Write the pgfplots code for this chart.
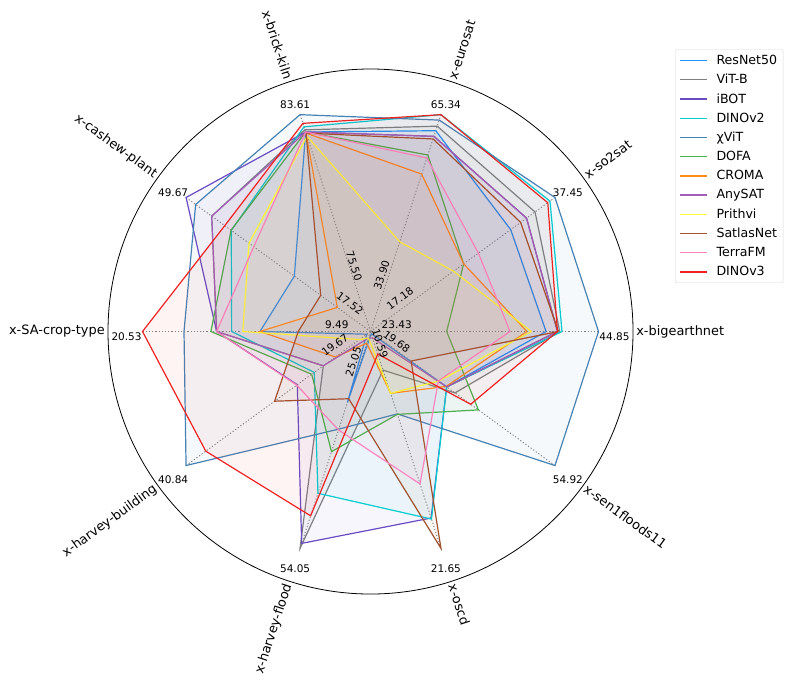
\documentclass[border=0pt]{standalone}
\usepackage{fontspec}
\setmainfont{DejaVu Sans}
\usepackage{pgfplots}
\usepackage{pgfplotstable}
\pgfplotsset{compat=1.18}

\definecolor{cRes}{HTML}{1E90FF}
\definecolor{cVit}{HTML}{808080}
\definecolor{cIbot}{HTML}{6A4BC4}
\definecolor{cDinoTwo}{HTML}{00CED1}
\definecolor{cChi}{HTML}{4682B4}
\definecolor{cDofa}{HTML}{4CAF50}
\definecolor{cCroma}{HTML}{FF8C1A}
\definecolor{cAny}{HTML}{A05EB5}
\definecolor{cPri}{HTML}{FFFF33}
\definecolor{cSat}{HTML}{A0522D}
\definecolor{cTerra}{HTML}{FF85C0}
\definecolor{cDinoThree}{HTML}{EE2222}

% normalised radius on each spoke (1 = maximum of that spoke)
\pgfplotstableread{
angle res   vit   ibot  dinotwo chi   dofa  croma anysat prithvi satlas terra dinothree
0     0.770 0.830 0.820 0.840   1.000 0.334 0.686 0.820  0.706   0.824  0.612 0.820
36    0.760 0.892 0.846 0.973   1.000 0.505 0.505 0.846  0.450   0.814  0.585 0.961
72    0.926 0.947 0.900 1.000   0.975 0.814 0.726 0.900  0.414   0.888  0.800 1.000
108   0.920 0.930 0.920 0.944   1.000 0.920 0.915 0.920  0.900   0.915  0.920 0.960
144   0.413 0.861 1.000 0.755   0.948 0.756 0.180 0.861  0.659   0.270  0.633 0.790
180   0.485 0.675 0.675 0.609   0.818 0.700 0.485 0.675  0.560   0.317  0.675 1.000
216   0.020 0.256 0.397 0.305   1.000 0.319 0.190 0.256  0.060   0.520  0.400 0.893
252   0.327 1.000 0.977 0.746   0.450 0.554 0.054 0.030  0.030   0.310  0.454 0.850
288   0.010 0.178 0.860 0.865   0.380 0.382 0.285 0.030  0.285   1.000  0.703 0.104
324   0.413 0.458 0.413 0.413   1.000 0.585 0.410 0.413  0.370   0.220  0.368 0.543
360   0.770 0.830 0.820 0.840   1.000 0.334 0.686 0.820  0.706   0.824  0.612 0.820
}\radar

\newcommand{\axfont}{\fontsize{12.9bp}{15bp}\selectfont}
\newcommand{\tkfont}{\fontsize{10.5bp}{12bp}\selectfont}

\begin{document}
\begin{tikzpicture}
\begin{axis}[
  x=228bp, y=228bp,
  xmin=-1.625, xmax=1.853, ymin=-1.550, ymax=1.454,
  scale only axis, hide axis, clip=false,
  legend style={at={(axis cs:1.3355,1.2377)}, anchor=north west,
    draw=black!15, rounded corners=2bp, fill=white,
    font=\fontsize{12.6bp}{15bp}\selectfont,
    row sep=4.3bp, inner xsep=4bp, inner ysep=3.5bp,
    cells={anchor=west}},
]
\path (axis cs:-1.625,-1.550) rectangle (axis cs:1.853,1.454);
% outer circle
\draw[black, line width=0.8bp] (axis cs:0,0) circle[radius=262.5bp];
% spokes
\pgfplotsinvokeforeach{0,36,72,108,144,180,216,252,288,324}{
  \addplot[gray, dotted, line width=0.9bp, data cs=polar, forget plot] coordinates {(0,0) (#1,1)};
}

\pgfplotsset{every axis plot/.append style={line width=1.2bp, fill opacity=0.05, draw opacity=1}}
\addplot[draw=cRes, fill=cRes, data cs=polar, forget plot] table[x=angle,y=res] {\radar};
\addplot[draw=cVit, fill=cVit, data cs=polar, forget plot] table[x=angle,y=vit] {\radar};
\addplot[draw=cIbot, fill=cIbot, data cs=polar, forget plot] table[x=angle,y=ibot] {\radar};
\addplot[draw=cDinoTwo, fill=cDinoTwo, data cs=polar, forget plot] table[x=angle,y=dinotwo] {\radar};
\addplot[draw=cChi, fill=cChi, data cs=polar, forget plot] table[x=angle,y=chi] {\radar};
\addplot[draw=cDofa, fill=cDofa, data cs=polar, forget plot] table[x=angle,y=dofa] {\radar};
\addplot[draw=cCroma, fill=cCroma, data cs=polar, forget plot] table[x=angle,y=croma] {\radar};
\addplot[draw=cAny, fill=cAny, data cs=polar, forget plot] table[x=angle,y=anysat] {\radar};
\addplot[draw=cPri, fill=cPri, data cs=polar, forget plot] table[x=angle,y=prithvi] {\radar};
\addplot[draw=cSat, fill=cSat, data cs=polar, forget plot] table[x=angle,y=satlas] {\radar};
\addplot[draw=cTerra, fill=cTerra, data cs=polar, forget plot] table[x=angle,y=terra] {\radar};
\addplot[draw=cDinoThree, fill=cDinoThree, data cs=polar, forget plot] table[x=angle,y=dinothree] {\radar};

% legend entries with explicit line images
\newcommand{\legline}[2]{\addlegendimage{legend image code/.code={\draw[draw=#1, line width=1.4bp, solid, opacity=1] (0bp,0bp) -- (27bp,0bp); \path (34bp,0bp);}}\addlegendentry{#2}}
\legline{cRes}{ResNet50}
\legline{cVit}{ViT-B}
\legline{cIbot}{iBOT}
\legline{cDinoTwo}{DINOv2}
\legline{cChi}{χViT}
\legline{cDofa}{DOFA}
\legline{cCroma}{CROMA}
\legline{cAny}{AnySAT}
\legline{cPri}{Prithvi}
\legline{cSat}{SatlasNet}
\legline{cTerra}{TerraFM}
\legline{cDinoThree}{DINOv3}

% axis names
\node[font=\axfont, anchor=west, rotate=0, inner sep=0pt] at (axis cs:{1.165*cos(0)},{1.165*sin(0)}) {x-bigearthnet};
\node[font=\axfont, anchor=west, rotate=36, inner sep=0pt] at (axis cs:{1.165*cos(36)},{1.165*sin(36)}) {x-so2sat};
\node[font=\axfont, anchor=west, rotate=72, inner sep=0pt] at (axis cs:{1.165*cos(72)},{1.165*sin(72)}) {x-eurosat};
\node[font=\axfont, anchor=east, rotate=-72, inner sep=0pt] at (axis cs:{1.165*cos(108)},{1.165*sin(108)}) {x-brick-kiln};
\node[font=\axfont, anchor=east, rotate=-36, inner sep=0pt] at (axis cs:{1.165*cos(144)},{1.165*sin(144)}) {x-cashew-plant};
\node[font=\axfont, anchor=east, rotate=0, inner sep=0pt] at (axis cs:{1.165*cos(180)},{1.165*sin(180)}) {x-SA-crop-type};
\node[font=\axfont, anchor=east, rotate=36, inner sep=0pt] at (axis cs:{1.165*cos(216)},{1.165*sin(216)}) {x-harvey-building};
\node[font=\axfont, anchor=east, rotate=72, inner sep=0pt] at (axis cs:{1.165*cos(252)},{1.165*sin(252)}) {x-harvey-flood};
\node[font=\axfont, anchor=west, rotate=-72, inner sep=0pt] at (axis cs:{1.165*cos(288)},{1.165*sin(288)}) {x-oscd};
\node[font=\axfont, anchor=west, rotate=-36, inner sep=0pt] at (axis cs:{1.165*cos(324)},{1.165*sin(324)}) {x-sen1floods11};

% maximum labels
\node[font=\tkfont, inner sep=0pt] at (axis cs:{1.07*cos(0)},{1.07*sin(0)-0.0206}) {44.85};
\node[font=\tkfont, inner sep=0pt] at (axis cs:{1.07*cos(36)},{1.07*sin(36)-0.0206}) {37.45};
\node[font=\tkfont, inner sep=0pt] at (axis cs:{1.07*cos(72)},{1.07*sin(72)-0.0206}) {65.34};
\node[font=\tkfont, inner sep=0pt] at (axis cs:{1.07*cos(108)},{1.07*sin(108)-0.0206}) {83.61};
\node[font=\tkfont, inner sep=0pt] at (axis cs:{1.07*cos(144)},{1.07*sin(144)-0.0206}) {49.67};
\node[font=\tkfont, inner sep=0pt] at (axis cs:{1.07*cos(180)},{1.07*sin(180)-0.0206}) {20.53};
\node[font=\tkfont, inner sep=0pt] at (axis cs:{1.07*cos(216)},{1.07*sin(216)-0.0206}) {40.84};
\node[font=\tkfont, inner sep=0pt] at (axis cs:{1.07*cos(252)},{1.07*sin(252)-0.0206}) {54.05};
\node[font=\tkfont, inner sep=0pt] at (axis cs:{1.07*cos(288)},{1.07*sin(288)-0.0206}) {21.65};
\node[font=\tkfont, inner sep=0pt] at (axis cs:{1.07*cos(324)},{1.07*sin(324)-0.0206}) {54.92};

% minimum labels
\node[font=\tkfont, inner sep=0pt, rotate=0]   at (axis cs:0.115,0.0285) {23.43};
\node[font=\tkfont, inner sep=0pt, rotate=36]  at (axis cs:0.129,0.146) {17.18};
\node[font=\tkfont, inner sep=0pt, rotate=72]  at (axis cs:0.049,0.248) {33.90};
\node[font=\tkfont, inner sep=0pt, rotate=-72] at (axis cs:-0.072,0.287) {75.50};
\node[font=\tkfont, inner sep=0pt, rotate=-36] at (axis cs:-0.090,0.124) {17.52};
\node[font=\tkfont, inner sep=0pt, rotate=0]   at (axis cs:-0.148,0.0285) {9.49};
\node[font=\tkfont, inner sep=0pt, rotate=36]  at (axis cs:-0.156,-0.059) {19.67};
\node[font=\tkfont, inner sep=0pt, rotate=72]  at (axis cs:-0.075,-0.132) {25.05};
\node[font=\tkfont, inner sep=0pt, rotate=-72] at (axis cs:0.042,-0.052) {10.59};
\node[font=\tkfont, inner sep=0pt, rotate=-36] at (axis cs:0.115,-0.045) {19.68};
\end{axis}
\end{tikzpicture}
\end{document}
